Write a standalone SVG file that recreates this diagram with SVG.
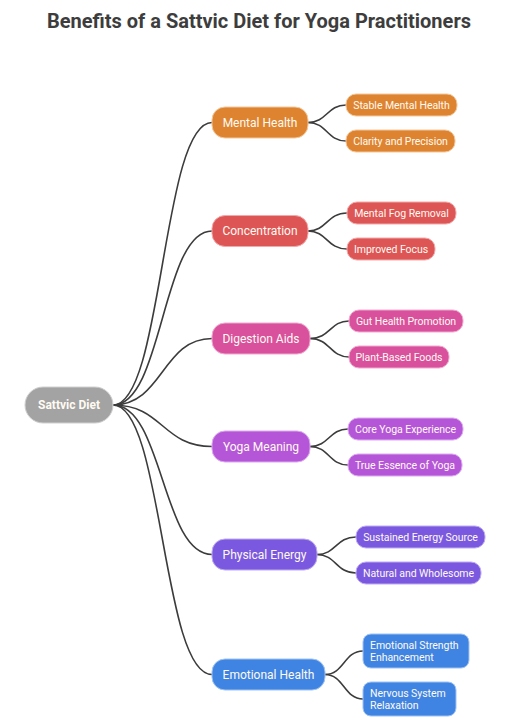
<svg xmlns="http://www.w3.org/2000/svg" width="511" height="725" viewBox="0 0 511 725">
<style>
.title{font-family:Roboto,"Liberation Sans",sans-serif;font-weight:bold;font-size:20px;fill:#3d3d3d;text-anchor:middle}
.lbl{font-family:Roboto,"Liberation Sans",sans-serif;fill:#fffaf2;text-anchor:middle;dominant-baseline:central}
.main{font-size:12px}
.leaf{font-size:10.5px;letter-spacing:-0.05px}
.root{font-size:12px;font-weight:bold}
.edge{fill:none;stroke:#3c3c3c;stroke-width:1.6}
.or{fill:#de8430;stroke:#f2c79c}
.rd{fill:#dd5555;stroke:#f1aaaa}
.pk{fill:#d9509c;stroke:#efa9cf}
.pu{fill:#b556d9;stroke:#dcaaee}
.vi{fill:#7a58e0;stroke:#bdaaf0}
.bl{fill:#3f84e2;stroke:#9fc2f1}
.gr{fill:#a3a3a3;stroke:#d0d0d0}
rect{stroke-width:1}
</style>
<text class="title" x="259" y="28">Benefits of a Sattvic Diet for Yoga Practitioners</text>
<g id="connectors">
<path class="edge" d="M113,405 C163,405 162,122.5 212,122.5"/>
<path class="edge" d="M113,405 C163,405 162,231 212,231"/>
<path class="edge" d="M113,405 C163,405 162,338.5 212,338.5"/>
<path class="edge" d="M113,405 C163,405 162,446.5 212,446.5"/>
<path class="edge" d="M113,405 C163,405 162,554.5 212,554.5"/>
<path class="edge" d="M113,405 C163,405 162,674.5 212,674.5"/>
<path class="edge" d="M308,122.5 C327,122.5 327,105 346,105"/>
<path class="edge" d="M308,122.5 C327,122.5 327,141 346,141"/>
<path class="edge" d="M308,231 C327,231 327,213 347,213"/>
<path class="edge" d="M308,231 C327,231 327,249 347,249"/>
<path class="edge" d="M310,338.5 C330,338.5 330,321 349,321"/>
<path class="edge" d="M310,338.5 C330,338.5 330,357 349,357"/>
<path class="edge" d="M310,446.5 C329,446.5 329,429 348,429"/>
<path class="edge" d="M310,446.5 C329,446.5 329,465 348,465"/>
<path class="edge" d="M317,554.5 C336,554.5 336,537 356,537"/>
<path class="edge" d="M317,554.5 C336,554.5 336,573 356,573"/>
<path class="edge" d="M325,674.5 C344,674.5 344,651 363,651"/>
<path class="edge" d="M325,674.5 C344,674.5 344,699 363,699"/>
</g>
<g id="root"><rect class="gr" x="25" y="387" width="88" height="36" rx="18"/><text class="lbl root" x="69" y="405">Sattvic Diet</text></g>
<g id="mental-health"><rect class="or" x="212" y="107" width="96" height="31" rx="13"/><text class="lbl main" x="260" y="122.5">Mental Health</text></g>
<g id="stable-mental-health"><rect class="or" x="346" y="94" width="111" height="22" rx="10"/><text class="lbl leaf" x="401.5" y="105">Stable Mental Health</text></g>
<g id="clarity"><rect class="or" x="346" y="130" width="109" height="22" rx="10"/><text class="lbl leaf" x="400.5" y="141">Clarity and Precision</text></g>
<g id="concentration"><rect class="rd" x="212" y="215.5" width="96" height="31" rx="13"/><text class="lbl main" x="260" y="231">Concentration</text></g>
<g id="mental-fog"><rect class="rd" x="347" y="202" width="109" height="22" rx="10"/><text class="lbl leaf" x="401.5" y="213">Mental Fog Removal</text></g>
<g id="improved-focus"><rect class="rd" x="347" y="238" width="88" height="22" rx="10"/><text class="lbl leaf" x="391" y="249">Improved Focus</text></g>
<g id="digestion-aids"><rect class="pk" x="212" y="323" width="98" height="31" rx="13"/><text class="lbl main" x="261" y="338.5">Digestion Aids</text></g>
<g id="gut-health"><rect class="pk" x="349" y="310" width="114" height="22" rx="10"/><text class="lbl leaf" x="406" y="321">Gut Health Promotion</text></g>
<g id="plant-based"><rect class="pk" x="349" y="346" width="100" height="22" rx="10"/><text class="lbl leaf" x="399" y="357">Plant-Based Foods</text></g>
<g id="yoga-meaning"><rect class="pu" x="212" y="431" width="98" height="31" rx="13"/><text class="lbl main" x="261" y="446.5">Yoga Meaning</text></g>
<g id="core-yoga"><rect class="pu" x="348" y="418" width="115" height="22" rx="10"/><text class="lbl leaf" x="405.5" y="429">Core Yoga Experience</text></g>
<g id="true-essence"><rect class="pu" x="348" y="454" width="114" height="22" rx="10"/><text class="lbl leaf" x="405" y="465">True Essence of Yoga</text></g>
<g id="physical-energy"><rect class="vi" x="212" y="539" width="105" height="31" rx="13"/><text class="lbl main" x="264.5" y="554.5">Physical Energy</text></g>
<g id="sustained-energy"><rect class="vi" x="356" y="526" width="129" height="22" rx="10"/><text class="lbl leaf" x="420.5" y="537">Sustained Energy Source</text></g>
<g id="natural-wholesome"><rect class="vi" x="356" y="562" width="125" height="22" rx="10"/><text class="lbl leaf" x="418.5" y="573">Natural and Wholesome</text></g>
<g id="emotional-health"><rect class="bl" x="212" y="659" width="113" height="31" rx="13"/><text class="lbl main" x="268.5" y="674.5">Emotional Health</text></g>
<g id="emotional-strength"><rect class="bl" x="363" y="634" width="106" height="34" rx="8"/><text class="lbl leaf" x="370" y="645" style="text-anchor:start">Emotional Strength</text><text class="lbl leaf" x="370" y="657" style="text-anchor:start">Enhancement</text></g>
<g id="nervous-system"><rect class="bl" x="363" y="682" width="93" height="34" rx="8"/><text class="lbl leaf" x="370" y="693" style="text-anchor:start">Nervous System</text><text class="lbl leaf" x="370" y="705" style="text-anchor:start">Relaxation</text></g>
</svg>
